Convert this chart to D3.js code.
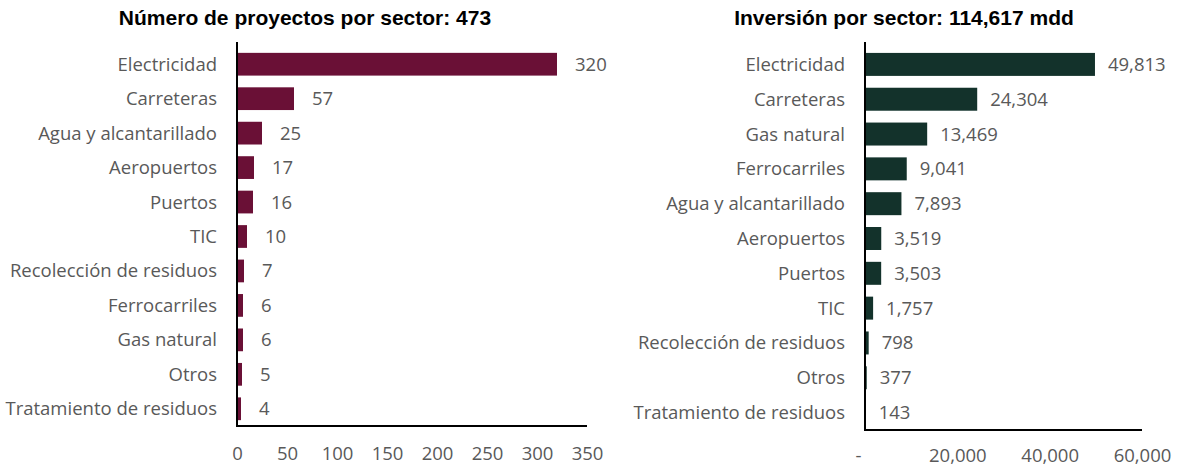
<!DOCTYPE html>
<meta charset="utf-8">
<style>
body {
  margin: 0;
  background: #fff;
}
.title {
  font-family: "Liberation Sans", Arial, sans-serif;
  font-weight: bold;
  font-size: 21px;
  fill: #000;
}
.cat, .val, .tick text {
  font-family: "Open Sans", "Noto Sans", sans-serif;
  font-size: 18.5px;
  fill: #595959;
}
.axisline {
  stroke: #000;
  stroke-width: 2px;
}
</style>
<body>
<script src="https://cdn.jsdelivr.net/npm/d3@7"></script>
<script>

var width = 1183,
    height = 470;

// numero de proyectos por sector
var sectoresProy = ["Electricidad", "Carreteras", "Agua y alcantarillado", "Aeropuertos", "Puertos", "TIC",
  "Recolección de residuos", "Ferrocarriles", "Gas natural", "Otros", "Tratamiento de residuos"];
var proyectos = [320, 57, 25, 17, 16, 10, 7, 6, 6, 5, 4];
var ticksProy = [0, 50, 100, 150, 200, 250, 300, 350];

// inversion por sector (mdd)
var sectoresInv = ["Electricidad", "Carreteras", "Gas natural", "Ferrocarriles", "Agua y alcantarillado", "Aeropuertos",
  "Puertos", "TIC", "Recolección de residuos", "Otros", "Tratamiento de residuos"];
var inversion = [49813, 24304, 13469, 9041, 7893, 3519, 3503, 1757, 798, 377, 143];
var ticksInv = [0, 20000, 40000, 60000];

var svg = d3.select("body").append("svg")
    .attr("width", width)
    .attr("height", height);

function panel(opts) {
  var g = svg.append("g");

  var x = d3.scaleLinear()
      .domain(opts.domain)
      .range([opts.x0, opts.x1]);

  var y = d3.scaleBand()
      .domain(opts.cats)
      .range([opts.y0, opts.y1])
      .paddingInner(0.34)
      .paddingOuter(0.17);

  g.append("text")
      .attr("class", "title")
      .attr("x", opts.titleX)
      .attr("y", 25)
      .attr("text-anchor", "middle")
      .text(opts.title);

  g.selectAll(".bar")
      .data(opts.values)
    .enter().append("rect")
      .attr("class", "bar")
      .attr("x", x(0))
      .attr("y", function(d, i) { return y(opts.cats[i]); })
      .attr("width", function(d) { return x(d) - x(0); })
      .attr("height", y.bandwidth())
      .attr("fill", opts.color);

  g.selectAll(".cat")
      .data(opts.cats)
    .enter().append("text")
      .attr("class", "cat")
      .attr("x", opts.x0 - 20)
      .attr("y", function(d) { return y(d) + y.bandwidth() / 2; })
      .attr("dy", "0.35em")
      .attr("text-anchor", "end")
      .text(function(d) { return d; });

  g.selectAll(".val")
      .data(opts.values)
    .enter().append("text")
      .attr("class", "val")
      .attr("x", function(d) { return x(d) + opts.gap; })
      .attr("y", function(d, i) { return y(opts.cats[i]) + y.bandwidth() / 2; })
      .attr("dy", "0.35em")
      .text(function(d) { return opts.fmt(d); });

  var axis = g.append("g")
      .attr("class", "x axis")
      .attr("transform", "translate(0," + opts.tickY + ")")
      .call(d3.axisBottom(x).tickValues(opts.ticks).tickSize(0).tickPadding(0).tickFormat(opts.tickFmt));
  axis.select(".domain").remove();
  axis.selectAll("text").attr("dy", "0.35em");
  axis.selectAll("text").filter(function(d) { return d === 0; }).attr("dx", opts.zeroDx);

  g.append("line")
      .attr("class", "axisline")
      .attr("x1", x(0)).attr("x2", x(0))
      .attr("y1", opts.y0 - 5).attr("y2", opts.y1);
  g.append("line")
      .attr("class", "axisline")
      .attr("x1", x(0) - 1).attr("x2", opts.x1)
      .attr("y1", opts.y1).attr("y2", opts.y1);
}

panel({
  title: "Número de proyectos por sector: 473",
  titleX: 305,
  cats: sectoresProy,
  values: proyectos,
  ticks: ticksProy,
  domain: [0, 350],
  x0: 237, x1: 587,
  y0: 47, y1: 426,
  tickY: 454,
  zeroDx: 0,
  color: "#6a1036",
  gap: 18,
  fmt: d3.format("d"),
  tickFmt: d3.format("d")
});

panel({
  title: "Inversión por sector: 114,617 mdd",
  titleX: 904,
  cats: sectoresInv,
  values: inversion,
  ticks: ticksInv,
  domain: [0, 60000],
  x0: 865, x1: 1142,
  y0: 47, y1: 430,
  tickY: 456,
  zeroDx: -7,
  color: "#13322b",
  gap: 13,
  fmt: d3.format(","),
  tickFmt: function(d) { return d === 0 ? "-" : d3.format(",")(d); }
});

</script>
